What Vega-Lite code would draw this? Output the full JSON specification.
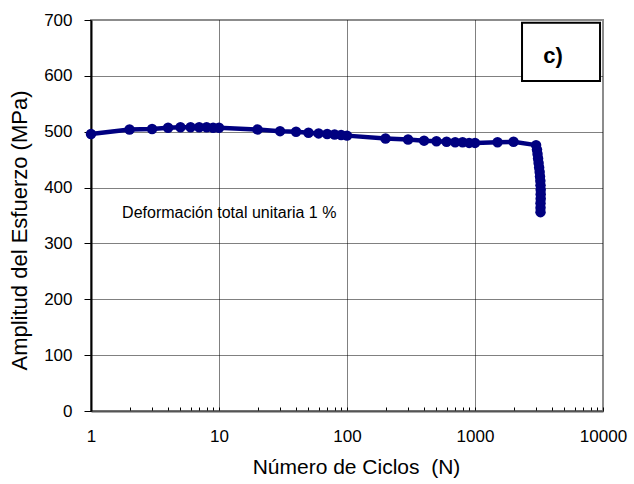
{
  "$schema": "https://vega.github.io/schema/vega-lite/v6.json",
  "width": 512,
  "height": 391,
  "autosize": "none",
  "padding": {"left": 91, "top": 20, "right": 31, "bottom": 73},
  "background": "white",
  "config": {
    "view": {"stroke": "#8c8c8c", "strokeWidth": 2},
    "font": "Liberation Sans",
    "axis": {"labelFont": "Liberation Sans", "titleFont": "Liberation Sans", "labelColor": "#000", "titleColor": "#000", "titleFontWeight": "normal", "zindex": 1}
  },
  "datasets": {
    "curve": [
      {"N": 1, "S": 496}, {"N": 2, "S": 504}, {"N": 3, "S": 505}, {"N": 4, "S": 507},
      {"N": 5, "S": 508}, {"N": 6, "S": 508}, {"N": 7, "S": 508}, {"N": 8, "S": 508},
      {"N": 9, "S": 507}, {"N": 10, "S": 507}, {"N": 20, "S": 504}, {"N": 30, "S": 501},
      {"N": 40, "S": 500}, {"N": 50, "S": 498}, {"N": 60, "S": 497}, {"N": 70, "S": 496},
      {"N": 80, "S": 495}, {"N": 90, "S": 494}, {"N": 100, "S": 493}, {"N": 200, "S": 488},
      {"N": 300, "S": 486}, {"N": 400, "S": 484}, {"N": 500, "S": 483}, {"N": 600, "S": 482},
      {"N": 700, "S": 481}, {"N": 800, "S": 481}, {"N": 900, "S": 480}, {"N": 1000, "S": 480},
      {"N": 1500, "S": 481}, {"N": 2000, "S": 482}, {"N": 3000, "S": 476},
      {"N": 3050, "S": 468}, {"N": 3080, "S": 460}, {"N": 3110, "S": 452}, {"N": 3140, "S": 444},
      {"N": 3170, "S": 436}, {"N": 3200, "S": 428}, {"N": 3220, "S": 420}, {"N": 3240, "S": 412},
      {"N": 3250, "S": 404}, {"N": 3260, "S": 396}, {"N": 3260, "S": 388}, {"N": 3260, "S": 380},
      {"N": 3250, "S": 372}, {"N": 3250, "S": 364}, {"N": 3250, "S": 356}
    ],
    "box": [{"N": 2330, "N2": 9480, "S": 591, "S2": 695}],
    "note": [{"N": 1.75, "S": 354, "t": "Deformación total unitaria 1 %"}],
    "tag": [{"N": 4066, "S": 635, "t": "c)"}]
  },
  "encoding": {
    "x": {
      "field": "N", "type": "quantitative",
      "scale": {"type": "log", "domain": [1, 10000]},
      "axis": {
        "title": "Número de Ciclos\u00a0\u00a0(N)",
        "titleFontSize": 21, "titlePadding": 12, "titleX": 265,
        "labelFontSize": 17, "labelPadding": 21, "format": "d", "labelFlush": false,
        "values": [1,2,3,4,5,6,7,8,9,10,20,30,40,50,60,70,80,90,100,200,300,400,500,600,700,800,900,1000,2000,3000,4000,5000,6000,7000,8000,9000,10000],
        "labelExpr": "indexof([1,10,100,1000,10000], datum.value) >= 0 ? datum.label : ''",
        "tickSize": -4, "tickColor": "#000", "tickWidth": 1,
        "domainColor": "#555", "domainWidth": 2,
        "grid": true, "gridColor": "#000", "gridDash": [1, 1], "gridWidth": 1,
        "gridOpacity": {"condition": {"test": "indexof([10,100,1000], datum.value) >= 0", "value": 1}, "value": 0}
      }
    },
    "y": {
      "field": "S", "type": "quantitative",
      "scale": {"domain": [0, 700]},
      "axis": {
        "title": "Amplitud del Esfuerzo (MPa)",
        "titleFontSize": 22, "titlePadding": 12, "titleY": 210,
        "labelFontSize": 17, "labelPadding": 12, "labelFlush": false,
        "values": [0,100,200,300,400,500,600,700],
        "tickSize": 7, "tickColor": "#000", "tickWidth": 1,
        "domainColor": "#000", "domainWidth": 2,
        "grid": true, "gridColor": "#000", "gridDash": [1, 1], "gridWidth": 1,
        "gridOpacity": {"condition": {"test": "datum.value > 0 && datum.value < 700", "value": 1}, "value": 0}
      }
    }
  },
  "layer": [
    {
      "data": {"name": "curve"},
      "mark": {"type": "line", "color": "#000080", "strokeWidth": 4.5, "point": {"filled": true, "size": 110, "color": "#000080", "opacity": 1}}
    },
    {
      "data": {"name": "box"},
      "mark": {"type": "rect", "fill": "white", "stroke": "#000", "strokeWidth": 2},
      "encoding": {"x2": {"field": "N2"}, "y2": {"field": "S2"}}
    },
    {
      "data": {"name": "note"},
      "mark": {"type": "text", "font": "Liberation Sans", "color": "#000", "fontSize": 16, "align": "left", "baseline": "middle"},
      "encoding": {"text": {"field": "t"}}
    },
    {
      "data": {"name": "tag"},
      "mark": {"type": "text", "font": "Liberation Sans", "color": "#000", "fontSize": 22, "fontWeight": "bold", "align": "center", "baseline": "middle"},
      "encoding": {"text": {"field": "t"}}
    }
  ]
}
